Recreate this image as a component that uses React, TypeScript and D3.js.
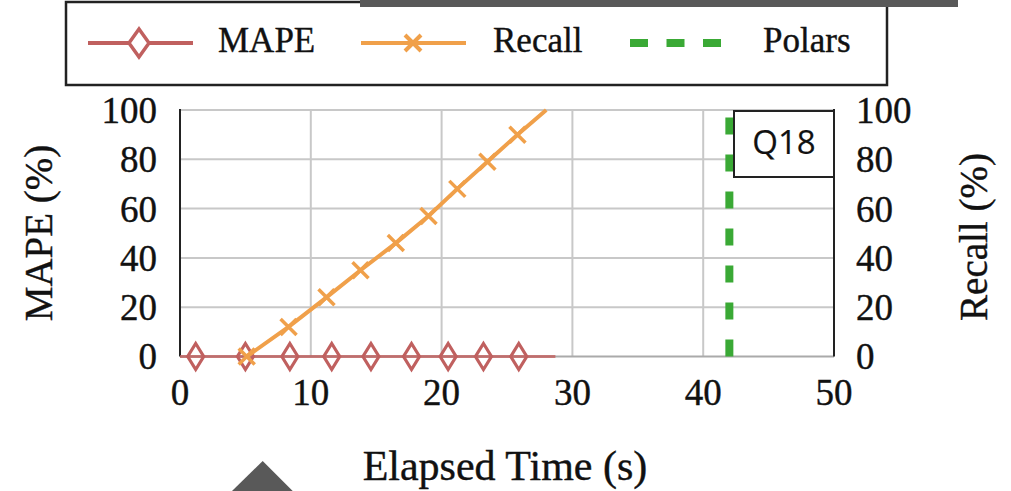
import React from "react";
import * as d3 from "d3";

const xTicks = [0, 10, 20, 30, 40, 50];
const yTicks = [0, 20, 40, 60, 80, 100];

const mapeTime = [0, 1.2, 5.0, 8.4, 11.6, 14.6, 17.7, 20.5, 23.2, 25.9, 28.7];
const mapeValue = [0, 0, 0, 0, 0, 0, 0, 0, 0, 0, 0];
const mapeMarkerIdx = [1, 2, 3, 4, 5, 6, 7, 8, 9];

const recallTime = [5.1, 8.3, 11.2, 13.8, 16.5, 19.0, 21.2, 23.5, 25.8, 28.0];
const recallValue = [0, 12, 24, 35, 46, 57, 68, 79, 90, 100];
const recallMarkerIdx = [0, 1, 2, 3, 4, 5, 6, 7, 8];

const polarsTime = 42.0;
const legendLabels = ["MAPE", "Recall", "Polars"];
const queryLabel = "Q18";

const RED = "#c0605f";
const ORANGE = "#f0a04a";
const GREEN = "#3aa935";
const GRID = "#c8c8c8";
const SERIF = "'Liberation Serif', 'DejaVu Serif', serif";
const TXT = { fill: "#111", stroke: "#111", strokeWidth: 0.4 };

export default function App() {
  const x = d3.scaleLinear().domain([0, 50]).range([180, 834]);
  const y = d3.scaleLinear().domain([0, 100]).range([356.5, 110]);

  const line = d3
    .line<[number, number]>()
    .x((d) => x(d[0]))
    .y((d) => y(d[1]));

  const mapePts: [number, number][] = mapeTime.map((t, i) => [t, mapeValue[i]]);
  const recallPts: [number, number][] = recallTime.map((t, i) => [t, recallValue[i]]);

  const diamond = (cx: number, cy: number, hw: number, hh: number) =>
    `M${cx},${cy - hh}L${cx + hw},${cy}L${cx},${cy + hh}L${cx - hw},${cy}Z`;
  const cross = (cx: number, cy: number, s: number) =>
    `M${cx - s},${cy - s}L${cx + s},${cy + s}M${cx - s},${cy + s}L${cx + s},${cy - s}`;

  return (
    <svg
      width={1011}
      height={491}
      style={{ position: "absolute", left: 0, top: 0, background: "#fff" }}
    >
      {/* grid */}
      {xTicks.slice(1, -1).map((t) => (
        <line key={"gx" + t} x1={x(t)} x2={x(t)} y1={y(0)} y2={y(100)} stroke={GRID} strokeWidth={2} />
      ))}
      {yTicks.slice(1).map((t) => (
        <line key={"gy" + t} x1={x(0)} x2={x(50)} y1={y(t)} y2={y(t)} stroke={GRID} strokeWidth={2} />
      ))}
      {/* bottom axis line */}
      <line x1={x(0)} x2={x(50)} y1={y(0)} y2={y(0)} stroke="#aaaaaa" strokeWidth={2} />
      {/* left & right axis */}
      <line x1={x(0)} x2={x(0)} y1={y(0)} y2={y(100) - 1} stroke="#222" strokeWidth={2} />
      <line x1={x(50)} x2={x(50)} y1={y(0)} y2={y(100) - 1} stroke="#222" strokeWidth={2} />

      {/* Polars vertical dashed line */}
      <line
        x1={x(polarsTime)}
        x2={x(polarsTime)}
        y1={y(0)}
        y2={y(100)}
        stroke={GREEN}
        strokeWidth={8}
        strokeDasharray="17 20"
      />

      {/* MAPE line */}
      <path d={line(mapePts) || ""} fill="none" stroke={RED} strokeWidth={3} opacity={0.8} />
      {mapeMarkerIdx.map((i) => (
        <path
          key={"m" + i}
          d={diamond(x(mapeTime[i]), y(mapeValue[i]), 8, 13)}
          fill="none"
          stroke={RED}
          strokeWidth={3.2}
        />
      ))}

      {/* Recall line */}
      <path d={line(recallPts) || ""} fill="none" stroke={ORANGE} strokeWidth={4} strokeLinejoin="round" />
      {recallMarkerIdx.map((i) => (
        <path
          key={"r" + i}
          d={cross(x(recallTime[i]), y(recallValue[i]), 8)}
          fill="none"
          stroke={ORANGE}
          strokeWidth={3.5}
        />
      ))}

      {/* Q18 box */}
      <rect x={734} y={111} width={x(50) - 734} height={66} fill="#fff" stroke="#222" strokeWidth={2} />
      <text
        x={(734 + x(50)) / 2}
        y={154}
        textAnchor="middle"
        fontFamily="'Open Sans', sans-serif"
        fontSize={33}
        {...TXT}
        strokeWidth={0.2}
      >
        {queryLabel}
      </text>

      {/* left tick labels */}
      {yTicks.map((t) => (
        <text key={"ly" + t} x={157} y={y(t)} dy="0.35em" textAnchor="end" fontFamily={SERIF} fontSize={37} {...TXT}>
          {t}
        </text>
      ))}
      {/* right tick labels */}
      {yTicks.map((t) => (
        <text key={"ry" + t} x={856} y={y(t)} dy="0.35em" textAnchor="start" fontFamily={SERIF} fontSize={37} {...TXT}>
          {t}
        </text>
      ))}
      {/* x tick labels */}
      {xTicks.map((t) => (
        <text key={"tx" + t} x={x(t)} y={405} textAnchor="middle" fontFamily={SERIF} fontSize={37} {...TXT}>
          {t}
        </text>
      ))}

      {/* axis titles */}
      <text x={505} y={480} textAnchor="middle" fontFamily={SERIF} fontSize={42} {...TXT}>
        Elapsed Time (s)
      </text>
      <text
        transform={`translate(38,233) rotate(-90)`}
        dy="0.35em"
        textAnchor="middle"
        fontFamily={SERIF}
        fontSize={39}
        {...TXT}
      >
        MAPE (%)
      </text>
      <text
        transform={`translate(973,237) rotate(-90)`}
        dy="0.35em"
        textAnchor="middle"
        fontFamily={SERIF}
        fontSize={39}
        {...TXT}
      >
        Recall (%)
      </text>

      {/* legend */}
      <rect x={66} y={2} width={821} height={83} fill="#fff" stroke="#222" strokeWidth={2.5} />
      <line x1={88} x2={193} y1={43} y2={43} stroke={RED} strokeWidth={4} />
      <path d={diamond(139, 43, 10, 14)} fill="#fff" stroke={RED} strokeWidth={3.5} />
      <text x={218} y={52} fontFamily={SERIF} fontSize={35} {...TXT}>
        {legendLabels[0]}
      </text>
      <line x1={361} x2={466} y1={43} y2={43} stroke={ORANGE} strokeWidth={4} />
      <path d={cross(413, 43, 8)} fill="none" stroke={ORANGE} strokeWidth={4} />
      <text x={493} y={52} fontFamily={SERIF} fontSize={35} {...TXT}>
        {legendLabels[1]}
      </text>
      <line x1={630} x2={722} y1={43} y2={43} stroke={GREEN} strokeWidth={8} strokeDasharray="18 18.5" />
      <text x={763} y={52} fontFamily={SERIF} fontSize={35} {...TXT}>
        {legendLabels[2]}
      </text>

      {/* overlay artifacts from the screenshot */}
      <rect x={360} y={0} width={598} height={7} fill="#595959" />
      <path d="M232,491L262.7,461L292.7,491Z" fill="#595959" />
    </svg>
  );
}
